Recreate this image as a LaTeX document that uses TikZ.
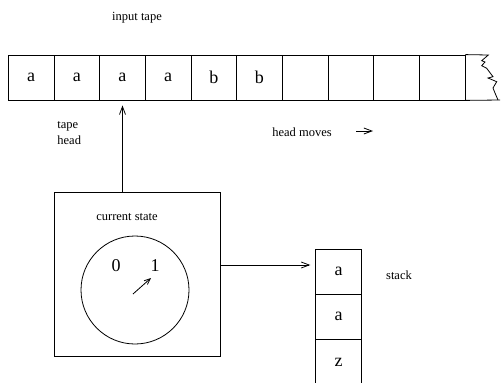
\documentclass[tikz,border=0pt]{standalone}
\usepackage{fontspec}
\setmainfont{Liberation Serif}
\usetikzlibrary{arrows.meta}
\begin{document}
\begin{tikzpicture}[x=1pt,y=-1pt,line width=0.8pt,
  cell/.style={draw,minimum width=45.6pt,minimum height=45pt,inner sep=0pt,font=\fontsize{18}{20}\selectfont},
  scell/.style={draw,minimum width=46pt,minimum height=45pt,inner sep=0pt,font=\fontsize{18}{20}\selectfont},
  lbl/.style={inner sep=0pt,font=\fontsize{12.5}{15}\selectfont},
  big/.style={inner sep=0pt,font=\fontsize{18}{20}\selectfont},
  arr/.style={-{Straight Barb[length=8pt,width=6pt,line width=0.8pt]}}]
\useasboundingbox (0,0) rectangle (501,383);
\clip (0,0) rectangle (501,383);
% tape
\foreach \i/\t in {1/a,2/a,3/a,4/a,5/b,6/b,7/{},8/{},9/{},10/{}}{
  \node[cell] (c\i) at ({8.3+45.67*(\i-0.5)},77.5) {\t};
}
\draw (c10.north east) -- (488.3,55) -- (481.7,60.7) -- (485,62) -- (481.7,65.7) -- (486.7,68.3)
  -- (493,76.7) -- (488,78) -- (496.7,81.7) -- (493,88) -- (495,93) -- (498,100);
\draw (c10.south east) -- (500,100);
\node[lbl] (inputtape) at (137,18) {input tape};
% state box
\node[draw,minimum width=166pt,minimum height=164pt,inner sep=0pt] (box) at (137,274) {};
\node[lbl] (cur) at (127,217) {current state};
\node[draw,circle,minimum size=108pt,inner sep=0pt] (dial) at (135,290) {};
\node[big] (zero) at (116,266) {0};
\node[big] (one) at (155,266) {1};
\coordinate (pivot) at (133,294);
\coordinate (ptr) at (151,278);
\draw[-{Straight Barb[length=6pt,width=5pt,line width=0.8pt]}] (pivot) -- (ptr);
% head arrow
\draw[arr,shorten >=5pt] (box.north -| c3) -- (c3.south);
\node[lbl,align=left,anchor=west] (tapehead) at (57,133) {tape\\[1pt]head};
\node[lbl] (hm) at (302,132) {head moves};
\coordinate (hm1) at (356,131);
\coordinate (hm2) at (373,131);
\draw[arr] (hm1) -- (hm2);
% stack
\node[scell] (s1) at (338.7,271.5) {a};
\node[scell] (s2) at (338.7,316.5) {a};
\node[scell,minimum height=47pt] (s3) at (338.7,362.5) {z};
\node[lbl] (stk) at (399,275) {stack};
\draw[arr,shorten >=5pt] (box.east |- 0,265) -- (s1.west |- 0,265);
\end{tikzpicture}
\end{document}
